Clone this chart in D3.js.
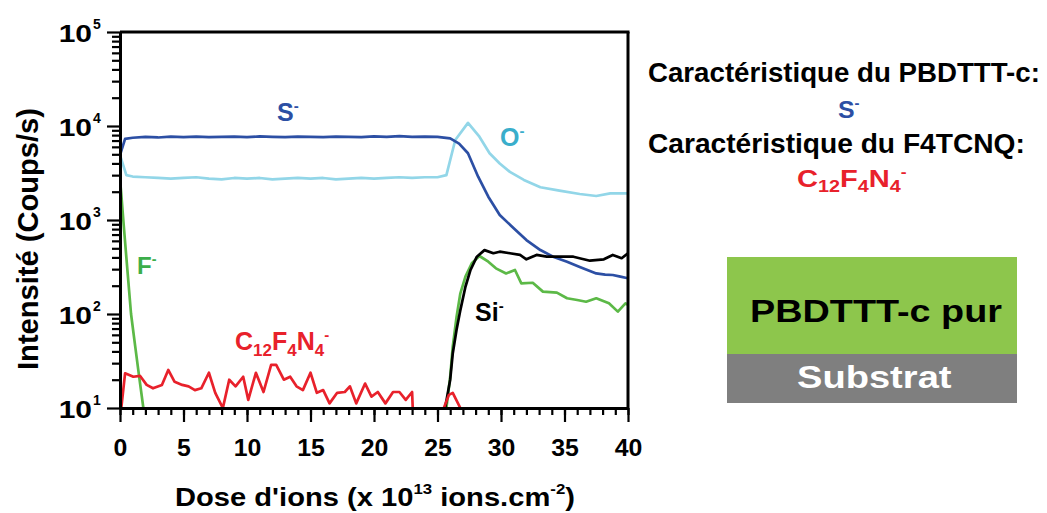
<!DOCTYPE html>
<html><head><meta charset="utf-8">
<script src="https://cdn.jsdelivr.net/npm/d3@7/dist/d3.min.js"></script>
<style>
html,body{margin:0;padding:0;background:#fff;}
svg{display:block;font-family:"Liberation Sans",Arial,sans-serif;font-weight:bold;}
</style></head>
<body><svg id="chart" width="1047" height="513"></svg>
<script>
// ---------- data ----------
const xTicks = [0, 5, 10, 15, 20, 25, 30, 35, 40];
const yTicks = [10, 100, 1000, 10000, 100000];
const yExponents = ["1", "2", "3", "4", "5"];

const sDose = [0, 0.4, 1, 2, 3, 4, 5, 6, 7, 8, 9, 10, 11, 12, 13, 14, 15, 16, 17, 18, 19, 20, 21, 22, 23, 24, 25, 26.0, 26.7, 27.4, 28.2, 29.0, 29.9, 31.0, 32.0, 33.1, 34.1, 35.2, 36.2, 37.5, 38.2, 38.8, 39.4, 40];
const sVal  = [4900, 7300, 7500, 7650, 7550, 7700, 7600, 7700, 7600, 7650, 7700, 7600, 7750, 7650, 7600, 7700, 7650, 7600, 7700, 7650, 7600, 7750, 7650, 7800, 7650, 7700, 7650, 7400, 6500, 5130, 2890, 1770, 1130, 817, 612, 479, 407, 360, 317, 270, 262, 260, 250, 240];

const oDose = [0, 0.5, 1, 2, 3, 4, 5, 6, 7, 8, 9, 10, 11, 12, 13, 14, 15, 16, 17, 18, 19, 20, 21, 22, 23, 24, 25, 25.7, 26.4, 27.4, 28.3, 29.1, 29.9, 30.7, 31.8, 33.1, 34.6, 36.2, 37.5, 38.6, 40];
const oVal  = [4900, 3000, 2900, 2850, 2800, 2750, 2800, 2850, 2750, 2700, 2800, 2750, 2800, 2700, 2750, 2800, 2750, 2800, 2700, 2750, 2800, 2750, 2800, 2850, 2800, 2850, 2850, 3000, 7100, 10800, 7690, 5130, 3990, 3250, 2670, 2230, 2050, 1890, 1800, 1920, 1920];

const fDose = [0, 0.1, 0.26, 0.5, 0.87, 1.2, 1.5, 1.84, 10, 25.7, 26.0, 26.2, 26.5, 26.8, 27.2, 27.7, 28.3, 29.0, 29.6, 30.4, 31.1, 31.6, 32.5, 33.3, 34.4, 35.2, 36.0, 36.7, 37.5, 38.5, 39.2, 39.8, 40];
const fVal  = [2700, 1900, 1000, 400, 100, 45, 22, 10, null, 10, 21.5, 45, 93, 166, 250, 347, 414, 360, 306, 270, 294, 212, 215, 173, 169, 147, 141, 135, 147, 130, 106, 130, 125];

const siDose = [25.6, 26.0, 26.2, 26.5, 26.8, 27.2, 27.6, 28.1, 28.7, 29.4, 29.9, 30.7, 31.5, 32.0, 32.8, 33.6, 34.6, 35.7, 37.0, 38.1, 38.8, 39.5, 40];
const siVal  = [10, 20, 38, 68, 110, 195, 294, 407, 478, 443, 460, 443, 425, 382, 425, 407, 407, 407, 369, 382, 425, 392, 443];

const cDose = [0.1, 0.4, 1.05, 1.57, 2.1, 2.6, 3.3, 3.8, 4.3, 4.9, 5.4, 5.9, 6.4, 7.0, 7.5, 8.1, 8.6, 9.1, 9.7, 10.1, 10.7, 11.3, 11.9, 12.3, 12.9, 13.4, 13.9, 14.4, 15.0, 15.5, 16.0, 16.5, 17.1, 17.7, 18.1, 18.6, 19.3, 19.8, 20.3, 20.9, 21.5, 22.0, 22.5, 23.0, 23.05, 24, 25.5, 25.9, 26.2, 26.8];
const cVal  = [10, 23.4, 21.5, 22, 17.6, 16.2, 17.6, 25.4, 19, 17.6, 17, 15.5, 16.2, 23.7, 14.5, 10, 20, 17, 21.5, 12.2, 23.7, 14.8, 28.7, 28.7, 20, 21.5, 17, 15.5, 23.7, 14.5, 15.5, 11.2, 14.5, 14.8, 17, 11.2, 18.2, 13.2, 14.8, 11.2, 14.8, 14.8, 12.2, 14.8, 10, null, 10, 13.8, 14.5, 10];

// ---------- layout ----------
const svg = d3.select("#chart");
const L = 120, R = 628, T = 32, B = 408;
const x = d3.scaleLinear().domain([0, 40]).range([L, R]);
const y = d3.scaleLog().domain([10, 1e5]).range([B, T]);

function fitStart(sel, x0, width) {
  const w = sel.node().getBBox().width;
  sel.attr("text-anchor", "start").attr("x", x0)
     .attr("transform", `translate(${x0},0) scale(${width / w},1) translate(${-x0},0)`);
}

svg.append("defs").append("clipPath").attr("id", "clip")
  .append("rect").attr("x", L).attr("y", T).attr("width", R - L).attr("height", B - T);

// ---------- series ----------
const series = [
  {d: oDose, v: oVal, c: "#92d6e8"},
  {d: sDose, v: sVal, c: "#2c4fa4"},
  {d: fDose, v: fVal, c: "#5cb947"},
  {d: siDose, v: siVal, c: "#000000"},
  {d: cDose, v: cVal, c: "#e8212b"}
];
const line = d3.line()
  .defined(p => p[1] != null)
  .x(p => x(p[0])).y(p => y(p[1]));
const gLines = svg.append("g").attr("clip-path", "url(#clip)");
series.forEach(s => {
  gLines.append("path")
    .attr("d", line(s.d.map((d, i) => [d, s.v[i]])))
    .attr("fill", "none").attr("stroke", s.c).attr("stroke-width", 2.7)
    .attr("stroke-linejoin", "round");
});

// ---------- axes ----------
const minorX = d3.range(0, 41, 1);
svg.append("g").attr("transform", `translate(0,${B})`)
  .call(d3.axisBottom(x).tickValues(minorX).tickSize(7).tickSizeOuter(0).tickFormat(() => ""));
const gx = svg.append("g").attr("transform", `translate(0,${B})`)
  .call(d3.axisBottom(x).tickValues(xTicks).tickSize(14).tickSizeOuter(0).tickFormat(() => ""));
gx.selectAll(".tick").append("text")
  .text(d => d).attr("fill", "#000").attr("y", 48)
  .attr("text-anchor", "middle").style("font-size", "23px")
  .attr("transform", "scale(1.08,1)");

const minorY = [];
for (let k = 1; k < 5; k++) for (let m = 2; m <= 9; m++) minorY.push(m * Math.pow(10, k));
svg.append("g").attr("transform", `translate(${L},0)`)
  .call(d3.axisLeft(y).tickValues(minorY).tickSize(8).tickSizeOuter(0).tickFormat(() => ""));
const gy = svg.append("g").attr("transform", `translate(${L},0)`)
  .call(d3.axisLeft(y).tickValues(yTicks).tickSize(13).tickSizeOuter(0).tickFormat(() => ""));
gy.selectAll(".tick").append("text")
  .text("10").attr("fill", "#000").attr("text-anchor", "end")
  .style("font-size", "24px")
  .attr("transform", "translate(-28,9) scale(1.25,1)");
gy.selectAll(".tick").append("text")
  .text((d, i) => yExponents[i]).attr("fill", "#000").attr("text-anchor", "start")
  .style("font-size", "14px").attr("x", -27).attr("y", -4);

svg.selectAll(".domain").attr("stroke-width", 3);
svg.selectAll(".tick line").attr("stroke-width", 2.2);

svg.append("line").attr("x1", L).attr("x2", R + 1.5).attr("y1", T).attr("y2", T)
  .attr("stroke", "#000").attr("stroke-width", 3);
svg.append("line").attr("x1", R).attr("x2", R).attr("y1", T).attr("y2", B)
  .attr("stroke", "#000").attr("stroke-width", 3);

// axis titles
const xt = svg.append("text").attr("y", 506).style("font-size", "26px").attr("fill", "#000");
xt.append("tspan").text("Dose d'ions (x 10");
xt.append("tspan").text("13").style("font-size", "15px").attr("dy", -12);
xt.append("tspan").text(" ions.cm").attr("dy", 12);
xt.append("tspan").text("-2").style("font-size", "15px").attr("dy", -12);
xt.append("tspan").text(")").attr("dy", 12);
fitStart(xt, 175, 400);

const yt = svg.append("text").text("Intensité (Coups/s)")
  .attr("text-anchor", "middle").style("font-size", "29px").attr("fill", "#000");
const ytw = yt.node().getBBox().width;
yt.attr("transform", `translate(38,239) rotate(-90) scale(${262 / ytw},1)`);

// ---------- in-plot labels ----------
function ionLabel(x0, yb, size, color, parts) {
  const t = svg.append("text").attr("x", x0).attr("y", yb)
    .style("font-size", size + "px").attr("fill", color);
  let cur = 0;
  parts.forEach(p => {
    const ts = t.append("tspan").text(p[0]);
    let target = 0, fs = size;
    if (p[1] === "sup") { target = -size * 0.42; fs = size * 0.6; }
    if (p[1] === "sub") { target = size * 0.22; fs = size * 0.68; }
    ts.attr("dy", target - cur).style("font-size", fs + "px");
    cur = target;
  });
  return t;
}
ionLabel(277, 121, 25, "#2c4fa4", [["S"], ["-", "sup"]]);
ionLabel(500, 146, 25, "#3aaecb", [["O"], ["-", "sup"]]);
ionLabel(137, 274, 24, "#3cae4a", [["F"], ["-", "sup"]]);
ionLabel(475, 321, 25, "#000", [["Si"], ["-", "sup"]]);
ionLabel(235, 350, 25, "#e8212b", [["C"], ["12", "sub"], ["F"], ["4", "sub"], ["N"], ["4", "sub"], ["-", "sup"]]);

// ---------- right annotation ----------
const r1 = svg.append("text").text("Caractéristique du PBDTTT-c:").attr("y", 82)
  .style("font-size", "28px").attr("fill", "#000");
fitStart(r1, 648, 392);
const rs = ionLabel(0, 118, 23, "#2c4fa4", [["S"], ["-", "sup"]]);
fitStart(rs, 838, 22);
const r3 = svg.append("text").text("Caractéristique du F4TCNQ:").attr("y", 153)
  .style("font-size", "28px").attr("fill", "#000");
fitStart(r3, 648, 377);
const rc = ionLabel(0, 187, 24, "#e8212b", [["C"], ["12", "sub"], ["F"], ["4", "sub"], ["N"], ["4", "sub"], ["-", "sup"]]);
fitStart(rc, 797, 110);

// ---------- layer box ----------
svg.append("rect").attr("x", 727).attr("y", 257).attr("width", 290).attr("height", 97)
  .attr("fill", "#8dc64c");
svg.append("rect").attr("x", 727).attr("y", 354).attr("width", 290).attr("height", 49)
  .attr("fill", "#7f7f7f");
const b1 = svg.append("text").text("PBDTTT-c pur").attr("y", 322)
  .style("font-size", "32px").attr("fill", "#000");
fitStart(b1, 750, 252);
const b2 = svg.append("text").text("Substrat").attr("y", 388)
  .style("font-size", "32px").attr("fill", "#fff");
fitStart(b2, 797, 155);
</script></body></html>
